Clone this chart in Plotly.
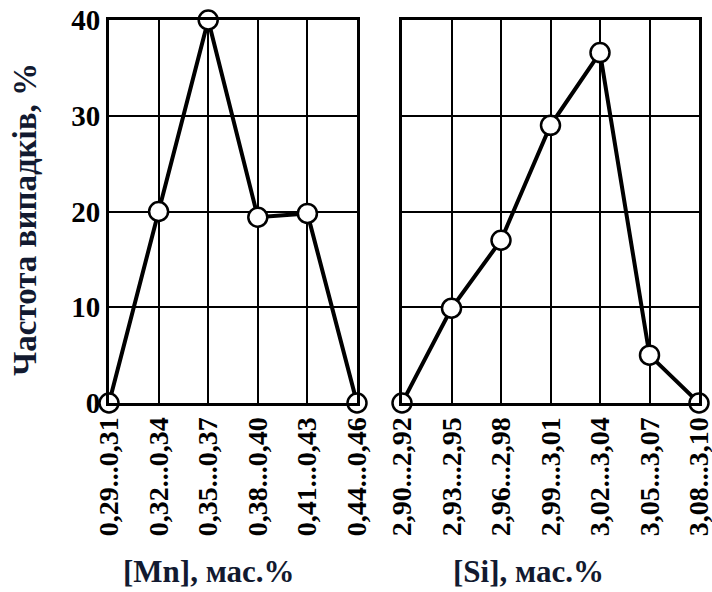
import plotly.graph_objects as go

mn_categories = ["0,29...0,31", "0,32...0,34", "0,35...0,37", "0,38...0,40", "0,41...0,43", "0,44...0,46"]
mn_freq = [0, 20, 40, 19.4, 19.8, 0]

si_categories = ["2,90...2,92", "2,93...2,95", "2,96...2,98", "2,99...3,01", "3,02...3,04", "3,05...3,07", "3,08...3,10"]
si_freq = [0, 9.9, 17.0, 29.0, 36.6, 5.0, 0]

y_ticks = [0, 10, 20, 30, 40]

W, H = 712, 592
FONT = "Liberation Serif"
TXT = "#121a30"

fig = go.Figure()

marker = dict(size=19, color="white", line=dict(color="black", width=2.5))
line = dict(color="black", width=4)

fig.add_trace(go.Scatter(x=list(range(len(mn_categories))), y=mn_freq, mode="lines+markers",
                         marker=marker, line=line, cliponaxis=False, xaxis="x", yaxis="y",
                         showlegend=False))
fig.add_trace(go.Scatter(x=list(range(len(si_categories))), y=si_freq, mode="lines+markers",
                         marker=marker, line=line, cliponaxis=False, xaxis="x2", yaxis="y2",
                         showlegend=False))

def px(v):
    return v / W

def py(v):
    return 1 - v / H

xcommon = dict(showgrid=True, gridcolor="black", gridwidth=2, showline=True, linecolor="black",
               linewidth=3, mirror=True, zeroline=False, ticks="", tickangle=-90,
               tickfont=dict(family=FONT, size=28, color="black", weight="bold"),
               ticklabelstandoff=0, tickmode="array", automargin=False,
               ticklabeloverflow="allow")
ycommon = dict(range=[0, 40], tickvals=y_ticks, showgrid=True, gridcolor="black", gridwidth=2,
               showline=True, linecolor="black", linewidth=3, mirror=True, zeroline=False,
               ticks="", tickfont=dict(family=FONT, size=29, color="black", weight="bold"),
               domain=[py(403), py(20)], automargin=False, ticklabeloverflow="allow")

fig.update_layout(
    width=W, height=H, margin=dict(l=0, r=0, t=0, b=0),
    paper_bgcolor="white", plot_bgcolor="white",
    xaxis=dict(domain=[px(109), px(357)], range=[0, len(mn_categories) - 1],
               tickvals=list(range(len(mn_categories))), ticktext=mn_categories, anchor="y", **xcommon),
    xaxis2=dict(domain=[px(402), px(699)], range=[0, len(si_categories) - 1],
                tickvals=list(range(len(si_categories))), ticktext=si_categories, anchor="y2", **xcommon),
    yaxis=dict(anchor="x", showticklabels=True, ticklabelstandoff=0, **ycommon),
    yaxis2=dict(anchor="x2", showticklabels=False, **ycommon),
)

fig.add_annotation(text="Частота випадків, %", x=px(25), y=py(220), xref="paper", yref="paper",
                   textangle=-90, showarrow=False, xanchor="center", yanchor="middle",
                   font=dict(family=FONT, size=33, color=TXT, weight="bold"))
fig.add_annotation(text="[Mn], мас.%", x=px(209), y=py(571), xref="paper", yref="paper",
                   showarrow=False, xanchor="center", yanchor="middle",
                   font=dict(family=FONT, size=31, color=TXT, weight="bold"))
fig.add_annotation(text="[Si], мас.%", x=px(528), y=py(571), xref="paper", yref="paper",
                   showarrow=False, xanchor="center", yanchor="middle",
                   font=dict(family=FONT, size=31, color=TXT, weight="bold"))

# remove the browser's default 8px body margin so the figure fills the window exactly
fig.write_html("out.html", config={"displayModeBar": False},
               post_script="document.body.style.margin='0';document.body.style.overflow='hidden';")
